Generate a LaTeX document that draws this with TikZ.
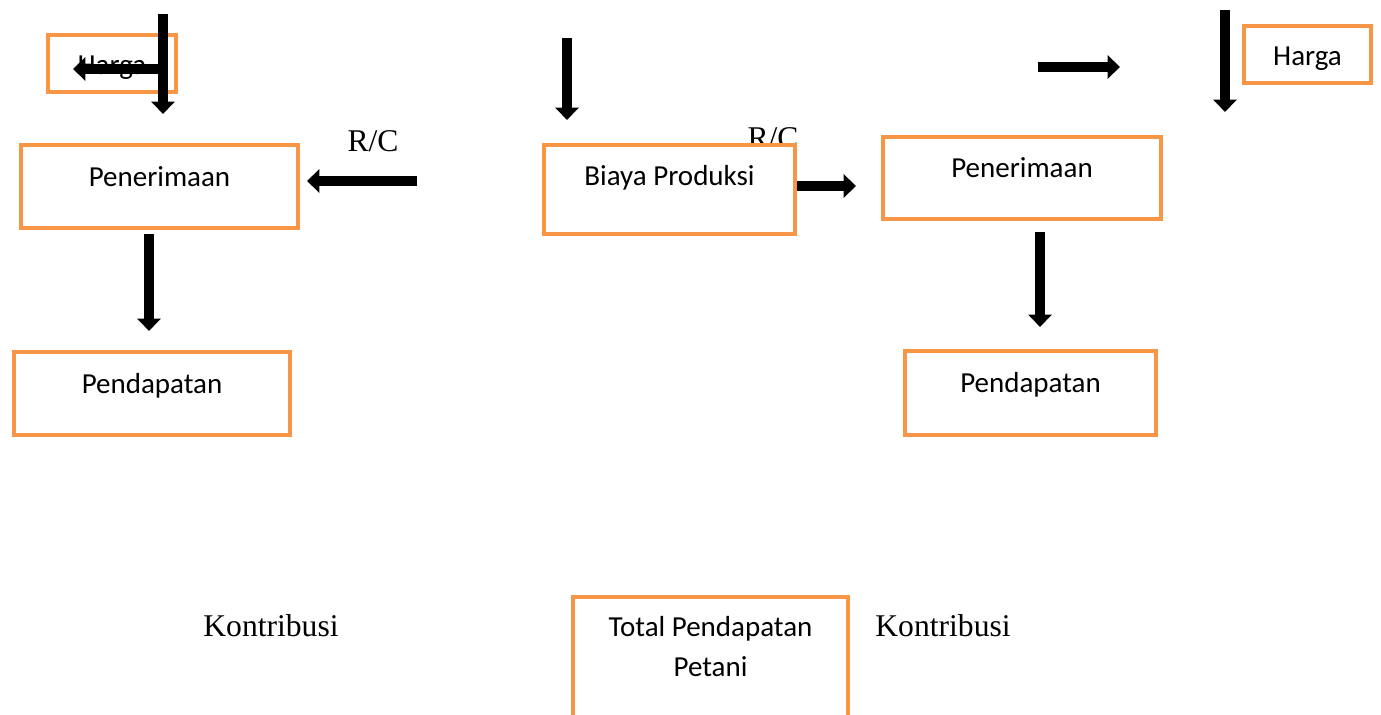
\documentclass[tikz,border=0pt]{standalone}
\usepackage{fontspec}
\setmainfont{Carlito}
\newfontfamily\timesfont{Liberation Serif}
\usepackage{xcolor}
\usetikzlibrary{arrows.meta, calc}
\definecolor{oranye}{HTML}{F79646}
\tikzstyle{kotak} = [rectangle, draw=oranye, line width=2.3pt, fill=white, text centered, font=\fontsize{16.5}{20}\selectfont, text height=14pt, text depth=14pt]
\tikzstyle{kecil} = [rectangle, draw=oranye, line width=2.3pt, fill=white, text centered, font=\fontsize{16.5}{20}\selectfont]
\tikzstyle{ket}   = [font=\timesfont\fontsize{18}{22}\selectfont, anchor=base]
\tikzstyle{panah} = [line width=5.6pt, -{Triangle[length=7pt, width=13pt]}]

\begin{document}
\begin{tikzpicture}[x=0.02cm, y=-0.02cm]
\useasboundingbox (0,0) rectangle (1381,715);

% keterangan
\node (rc1) [ket] at (373,152) {R/C};
\node (rc2) [ket] at (773,149) {R/C};
\node (kon1) [ket] at (271,636) {Kontribusi};
\node (kon2) [ket] at (943,636) {Kontribusi};

% kotak
\node (harga1) [kecil, minimum width=2.56cm, minimum height=1.14cm, text height=14pt, text depth=1.4pt] at (112,63.5) {Harga};
\node (pen1) [kotak, minimum width=5.54cm, minimum height=1.66cm] at (159.5,186.5) {Penerimaan};
\node (pend1) [kotak, minimum width=5.52cm, minimum height=1.66cm] at (152,393.5) {Pendapatan};
\node (biaya) [kotak, minimum width=5.02cm, minimum height=1.78cm, text depth=19pt] at (669.5,189.5) {Biaya Produksi};
\node (pen2) [kotak, minimum width=5.56cm, minimum height=1.64cm] at (1022,178) {Penerimaan};
\node (pend2) [kotak, minimum width=5.02cm, minimum height=1.68cm] at (1030.5,393) {Pendapatan};
\node (harga2) [kecil, minimum width=2.54cm, minimum height=1.14cm, text height=14pt, text depth=1.4pt] at (1307.5,54.5) {Harga};
\node (total) [kecil, anchor=north, align=center, minimum width=5.5cm, inner ysep=11pt, text depth=22pt, font=\fontsize{16.5}{22.7}\selectfont] at (710.5,595) {Total Pendapatan\\Petani};

% panah
\coordinate (h1atas) at (163,14);
\coordinate (rcawal) at (417,181);
\coordinate (bpatas) at (567,38);
\coordinate (k1) at (1038,67);
\coordinate (k2) at (1120,67);
\coordinate (h2atas) at (1225,10);
\coordinate (h2bawah) at (1225,112);

\draw [panah, shorten >=0.58cm] (h1atas) -- (h1atas |- pen1.north);
\draw [panah] ([xshift=-0.32cm, yshift=-0.11cm]harga1.east) -- ([xshift=0.54cm, yshift=-0.11cm]harga1.west);
\draw [panah, shorten >=0.14cm] (rcawal) -- (rcawal -| pen1.east);
\draw [panah, shorten <=0.08cm, shorten >=0.38cm] ([xshift=-0.21cm]pen1.south) -- ([xshift=-0.21cm]pen1.south |- pend1.north);
\draw [panah, shorten >=0.46cm] (bpatas) -- (bpatas |- biaya.north);
\draw [panah, shorten >=0.5cm] ([yshift=0.07cm]biaya.east) -- ([yshift=0.07cm]biaya.east -| pen2.west);
\draw [panah] (k1) -- (k2);
\draw [panah] (h2atas) -- (h2bawah);
\draw [panah, shorten <=0.22cm, shorten >=0.44cm] ([xshift=0.36cm]pen2.south) -- ([xshift=0.36cm]pen2.south |- pend2.north);
\end{tikzpicture}
\end{document}
